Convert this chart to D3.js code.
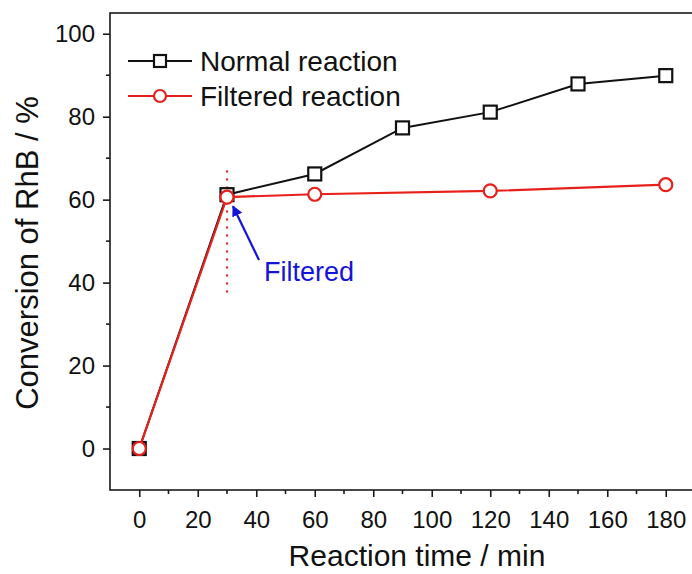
<!DOCTYPE html>
<html>
<head>
<meta charset="utf-8">
<script src="https://cdn.jsdelivr.net/npm/d3@7"></script>
<style>
  html, body { margin: 0; padding: 0; background: #fff; }
  svg { display: block; font-family: "Liberation Sans", Arial, sans-serif; }
</style>
</head>
<body>
<svg id="chart" width="692" height="574"></svg>
<script>
// Reaction time (min) and RhB conversion (%)
const normalTime = [0, 30, 60, 90, 120, 150, 180];
const normalConv = [0, 61.2, 66.2, 77.3, 81.1, 87.9, 89.9];
const filteredTime = [0, 30, 60, 120, 180];
const filteredConv = [0, 60.6, 61.3, 62.1, 63.6];
const xTicks = [0, 20, 40, 60, 80, 100, 120, 140, 160, 180];
const yTicks = [0, 20, 40, 60, 80, 100];
const filterTime = 30;
const filterLineRange = [37.5, 67];

const svg = d3.select("#chart");
const plotLeft = 110, plotRight = 695, plotTop = 13, plotBottom = 490;

const x = d3.scaleLinear().domain([-10, 190]).range([plotLeft, plotRight]);
const y = d3.scaleLinear().domain([-10, 105]).range([plotBottom, plotTop]);

const axisColor = "#1a1a1a";
const fontFamily = "'Liberation Sans', Arial, sans-serif";

// frame
svg.append("rect")
  .attr("x", plotLeft).attr("y", plotTop)
  .attr("width", plotRight - plotLeft).attr("height", plotBottom - plotTop)
  .attr("fill", "none").attr("stroke", axisColor).attr("stroke-width", 1.6);

// minor ticks
const xMinor = d3.range(-10, 191, 10).filter(v => !xTicks.includes(v) && v > -10);
const yMinor = d3.range(-10, 106, 10).filter(v => !yTicks.includes(v) && v > -10);

const gx = svg.append("g").attr("transform", `translate(0,${plotBottom})`);
gx.selectAll("line.minor").data(xMinor).join("line")
  .attr("x1", d => x(d)).attr("x2", d => x(d)).attr("y1", 0).attr("y2", 4)
  .attr("stroke", axisColor).attr("stroke-width", 1.6);
gx.call(d3.axisBottom(x).tickValues(xTicks).tickSize(7).tickPadding(14).tickFormat(d3.format("d")))
  .call(g => g.select(".domain").remove())
  .call(g => g.selectAll(".tick line").attr("stroke", axisColor).attr("stroke-width", 1.6))
  .call(g => g.selectAll(".tick text").attr("font-size", 24).attr("fill", "#111")
    .attr("font-family", fontFamily));

const gy = svg.append("g").attr("transform", `translate(${plotLeft},0)`);
gy.selectAll("line.minor").data(yMinor).join("line")
  .attr("x1", 0).attr("x2", -4).attr("y1", d => y(d)).attr("y2", d => y(d))
  .attr("stroke", axisColor).attr("stroke-width", 1.6);
gy.call(d3.axisLeft(y).tickValues(yTicks).tickSize(7).tickPadding(8).tickFormat(d3.format("d")))
  .call(g => g.select(".domain").remove())
  .call(g => g.selectAll(".tick line").attr("stroke", axisColor).attr("stroke-width", 1.6))
  .call(g => g.selectAll(".tick text").attr("font-size", 24).attr("fill", "#111")
    .attr("font-family", fontFamily));

// axis titles
svg.append("text")
  .attr("x", 417).attr("y", 566)
  .attr("text-anchor", "middle").attr("font-size", 30).attr("fill", "#111")
  .text("Reaction time / min");
svg.append("text")
  .attr("transform", `translate(38,253) rotate(-90)`)
  .attr("text-anchor", "middle").attr("font-size", 31).attr("fill", "#111")
  .text("Conversion of RhB / %");

// filtration marker: dotted vertical line
svg.append("line")
  .attr("x1", x(filterTime)).attr("x2", x(filterTime))
  .attr("y1", y(filterLineRange[1])).attr("y2", y(filterLineRange[0]))
  .attr("stroke", "#e8201c").attr("stroke-width", 2.2)
  .attr("stroke-dasharray", "2,6");

const normal = normalTime.map((t, i) => ({ t, v: normalConv[i] }));
const filtered = filteredTime.map((t, i) => ({ t, v: filteredConv[i] }));
const line = d3.line().x(d => x(d.t)).y(d => y(d.v));

svg.append("path").datum(normal).attr("d", line)
  .attr("fill", "none").attr("stroke", "#111").attr("stroke-width", 2);
svg.selectAll("rect.nsq").data(normal).join("rect").attr("class", "nsq")
  .attr("x", d => x(d.t) - 6.5).attr("y", d => y(d.v) - 6.5)
  .attr("width", 13).attr("height", 13)
  .attr("fill", "#fff").attr("stroke", "#111").attr("stroke-width", 2.2);

svg.append("path").datum(filtered).attr("d", line)
  .attr("fill", "none").attr("stroke", "#e8201c").attr("stroke-width", 2.2);
svg.selectAll("circle.fc").data(filtered).join("circle").attr("class", "fc")
  .attr("cx", d => x(d.t)).attr("cy", d => y(d.v)).attr("r", 6.5)
  .attr("fill", "#fff").attr("stroke", "#e8201c").attr("stroke-width", 2.2);

// annotation arrow
const defs = svg.append("defs");
defs.append("marker").attr("id", "arrowHead")
  .attr("viewBox", "0 0 10 10").attr("refX", 9).attr("refY", 5)
  .attr("markerWidth", 5).attr("markerHeight", 5).attr("orient", "auto")
  .append("path").attr("d", "M0,0 L10,5 L0,10 Z").attr("fill", "#1414d8");
svg.append("line")
  .attr("x1", 259).attr("y1", 260).attr("x2", x(filterTime) + 6).attr("y2", y(filteredConv[1]) + 9)
  .attr("stroke", "#1414d8").attr("stroke-width", 2.2)
  .attr("marker-end", "url(#arrowHead)");
svg.append("text")
  .attr("x", 264).attr("y", 281).attr("font-size", 27).attr("fill", "#1414d8")
  .text("Filtered");

// legend
const legend = svg.append("g");
const legendItems = [
  { label: "Normal reaction", color: "#111", shape: "square", y: 61 },
  { label: "Filtered reaction", color: "#e8201c", shape: "circle", y: 96 }
];
legendItems.forEach(it => {
  legend.append("line").attr("x1", 128).attr("x2", 192).attr("y1", it.y).attr("y2", it.y)
    .attr("stroke", it.color).attr("stroke-width", 2.2);
  if (it.shape === "square") {
    legend.append("rect").attr("x", 154).attr("y", it.y - 6).attr("width", 12).attr("height", 12)
      .attr("fill", "#fff").attr("stroke", it.color).attr("stroke-width", 2.2);
  } else {
    legend.append("circle").attr("cx", 160).attr("cy", it.y).attr("r", 6)
      .attr("fill", "#fff").attr("stroke", it.color).attr("stroke-width", 2.2);
  }
  legend.append("text").attr("x", 200).attr("y", it.y + 10).attr("font-size", 28).attr("fill", "#111")
    .text(it.label);
});
</script>
</body>
</html>
